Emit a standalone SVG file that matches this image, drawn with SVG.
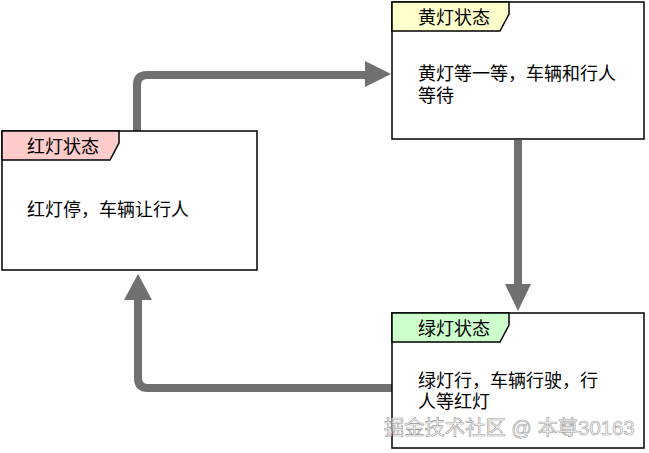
<svg xmlns="http://www.w3.org/2000/svg" width="649" height="453" viewBox="0 0 649 453">
<style>
.box{fill:#fff;stroke:#000;stroke-width:1.5}
.t{font-family:"Liberation Sans","Noto Sans CJK SC",sans-serif;font-size:18px;fill:#000}
.tab{stroke:#000;stroke-width:1.5}
.conn{fill:none;stroke:#707070;stroke-width:8}
.head{fill:#707070}
</style>
<rect width="649" height="453" fill="#fff"/>
<g id="connectors">
<path class="conn" d="M137 131 V85 Q137 75 147 75 H366"/>
<polygon class="head" points="365,61 391,74 365,87"/>
<path class="conn" d="M518 140 V285"/>
<polygon class="head" points="505,284 518,311 531,284"/>
<path class="conn" d="M392 388 H148 Q138 388 138 378 V298"/>
<polygon class="head" points="124,300 138,274 152,300"/>
</g>
<g id="red">
<rect class="box" x="2" y="131" width="255" height="139"/>
<polygon class="tab" fill="#ffcccc" points="2,131 119,131 119,143 110,160 2,160"/>
<text class="t" x="27" y="153">红灯状态</text>
<text class="t" x="27" y="216">红灯停，车辆让行人</text>
</g>
<g id="yellow">
<rect class="box" x="392" y="2" width="252" height="137"/>
<polygon class="tab" fill="#ffffcc" points="392,2 509,2 509,14 500,31 392,31"/>
<text class="t" x="418" y="24">黄灯状态</text>
<text class="t" x="418" y="80">黄灯等一等，车辆和行人</text>
<text class="t" x="418" y="102">等待</text>
</g>
<g id="green">
<rect class="box" x="392" y="313" width="252" height="135"/>
<polygon class="tab" fill="#ccffcc" points="392,313 509,313 509,325 500,342 392,342"/>
<text class="t" x="418" y="335">绿灯状态</text>
<text class="t" x="418" y="387">绿灯行，车辆行驶，行</text>
<text class="t" x="418" y="408">人等红灯</text>
</g>
<text x="384" y="435" font-family="'Liberation Sans','Noto Sans CJK SC',sans-serif" font-size="20.3" fill="#ffffff" stroke="#888" stroke-width="0.6" opacity="0.85">掘金技术社区 @ 本尊30163</text>
</svg>
